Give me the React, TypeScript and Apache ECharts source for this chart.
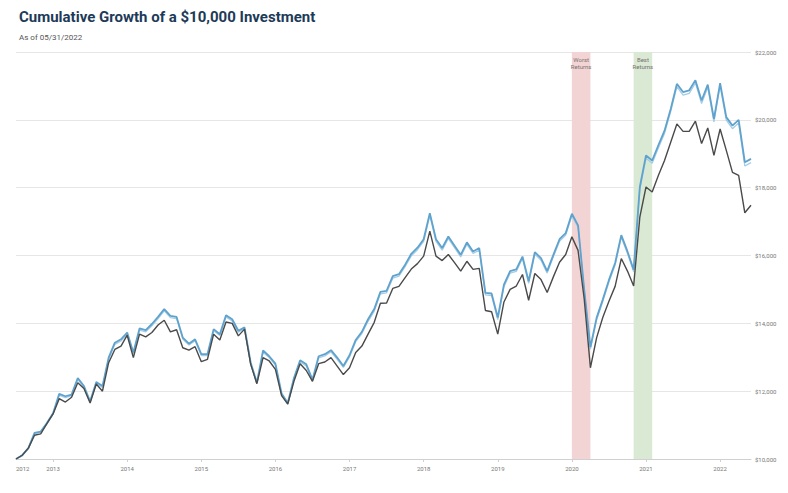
import React, { useEffect, useRef } from "react";
import * as echarts from "echarts";

// Month-end dates from 2012-06 through 2022-05
const startYear = 2012;
const startMonth = 6;
const monthCount = 120;
const months: string[] = [];
for (let i = 0; i < monthCount; i++) {
  const t = startMonth - 1 + i;
  const y = startYear + Math.floor(t / 12);
  const m = (t % 12) + 1;
  months.push(`${y}-${m < 10 ? "0" + m : m}`);
}

const fundBlue = [
  10000, 10110, 10320, 10770, 10810, 11060, 11350, 11920, 11850, 11900,
  12390, 12150, 11700, 12270, 12150, 12990, 13430, 13530, 13730, 13140,
  13850, 13800, 13980, 14190, 14420, 14220, 14190, 13580, 13400, 13530,
  13090, 13090, 13830, 13680, 14240, 14120, 13780, 13880, 12840, 12250,
  13200, 13030, 12810, 11930, 11650, 12390, 12910, 12790, 12340, 13030,
  13090, 13210, 12990, 12740, 13060, 13510, 13750, 14120, 14420, 14930,
  14960, 15390, 15450, 15730, 16050, 16230, 16480, 17250, 16480, 16220,
  16560, 16290, 16020, 16390, 16120, 16220, 14900, 14880, 14170, 15140,
  15540, 15590, 15970, 15240, 16100, 15920, 15540, 16020, 16480, 16660,
  17230, 16890, 14990, 13300, 14160, 14700, 15280, 15780, 16600, 16120,
  15580, 18020, 18950, 18800, 19250, 19680, 20320, 21060, 20820, 20870,
  21170, 20570, 21040, 20030, 21080, 20080, 19830, 20000, 18750, 18850,
];

const fundLightBlue = [
  10000, 10090, 10300, 10740, 10790, 11030, 11320, 11880, 11810, 11870,
  12350, 12110, 11680, 12230, 12110, 12940, 13380, 13480, 13690, 13100,
  13800, 13750, 13930, 14140, 14370, 14170, 14140, 13540, 13360, 13490,
  13050, 13050, 13780, 13640, 14190, 14070, 13740, 13840, 12800, 12220,
  13150, 12990, 12770, 11900, 11620, 12350, 12860, 12740, 12300, 12980,
  13040, 13160, 12940, 12700, 13010, 13460, 13700, 14060, 14360, 14870,
  14900, 15330, 15390, 15670, 15990, 16170, 16420, 17180, 16420, 16160,
  16500, 16230, 15960, 16330, 16060, 16160, 14840, 14820, 14110, 15080,
  15480, 15530, 15910, 15180, 16040, 15860, 15480, 15960, 16420, 16600,
  17170, 16830, 14930, 13240, 14100, 14640, 15220, 15720, 16540, 16060,
  15520, 17950, 18870, 18720, 19170, 19600, 20240, 20980, 20730, 20780,
  21090, 20480, 20960, 19940, 21000, 19990, 19740, 19910, 18640, 18740,
];

const benchmarkDark = [
  10000, 10110, 10320, 10700, 10740, 11040, 11330, 11780, 11680, 11820,
  12250, 12080, 11650, 12210, 12000, 12840, 13230, 13330, 13650, 12990,
  13680, 13600, 13730, 13950, 14090, 13750, 13810, 13280, 13210, 13310,
  12870, 12940, 13680, 13510, 14040, 14000, 13630, 13830, 12790, 12220,
  12990, 12890, 12640, 11870, 11620, 12290, 12810, 12610, 12290, 12810,
  12860, 12990, 12740, 12490, 12690, 13140, 13330, 13680, 14030, 14590,
  14600, 15030, 15090, 15350, 15600, 15760, 15980, 16720, 15980, 15850,
  16030, 15790, 15540, 15830, 15590, 15620, 14380, 14340, 13680, 14630,
  15000, 15100, 15440, 14680, 15470, 15290, 14910, 15370, 15800, 16030,
  16550, 16150, 14710, 12690, 13570, 14170, 14650, 15090, 15910, 15540,
  15100, 17130, 18020, 17870, 18360, 18800, 19340, 19880, 19660, 19660,
  19960, 19300, 19760, 18950, 19730, 19100, 18450, 18360, 17260, 17480,
];

const worstBand = ["2019-12", "2020-03"];
const bestBand = ["2020-10", "2021-01"];
const worstLabel = "Worst\nReturns";
const bestLabel = "Best\nReturns";
const firstYearLabel = "2012";

const titleText = "Cumulative Growth of a $10,000 Investment";
const subText = "As of 05/31/2022";

export default function App() {
  const ref = useRef<HTMLDivElement>(null);
  useEffect(() => {
    if (!ref.current) return;
    const chart = echarts.init(ref.current, undefined, { renderer: "svg" });
    const isYearTick = (_i: number, v: string) => v.endsWith("-12");
    chart.setOption({
      animation: false,
      backgroundColor: "#ffffff",
      textStyle: { fontFamily: "Roboto" },
      title: {
        text: titleText,
        subtext: subText,
        left: 14,
        top: 4,
        itemGap: 9,
        textStyle: { fontFamily: "Roboto", fontSize: 15, fontWeight: "bold", color: "#1d3a57" },
        subtextStyle: { fontFamily: "Roboto", fontSize: 8, color: "#555" },
      },
      grid: { left: 16, right: 37, top: 52, bottom: 34 },
      xAxis: {
        type: "category",
        data: months,
        boundaryGap: false,
        axisLine: { lineStyle: { color: "#d0d0d0" } },
        axisTick: { interval: isYearTick, length: 3, lineStyle: { color: "#d0d0d0" } },
        axisLabel: {
          interval: (i: number, v: string) => i === 0 || v.endsWith("-12"),
          formatter: (v: string, i: number) => (i === 0 ? firstYearLabel : String(Number(v.slice(0, 4)) + 1)),
          fontSize: 6,
          color: "#777",
          margin: 6,
          alignMinLabel: "left",
          showMinLabel: true,
        },
        splitLine: { show: false },
      },
      yAxis: {
        type: "value",
        position: "right",
        min: 10000,
        max: 22000,
        interval: 2000,
        axisLine: { show: false },
        axisTick: { show: false },
        axisLabel: {
          formatter: (v: number) => "$" + v.toLocaleString("en-US"),
          fontSize: 6,
          color: "#777",
          margin: 4,
        },
        splitLine: { lineStyle: { color: "#e6e6e6", width: 1 } },
      },
      series: [
        {
          name: "Light",
          type: "line",
          data: fundLightBlue,
          symbol: "none",
          lineStyle: { color: "#a3cde6", width: 1.3 },
          z: 2,
          markArea: {
            silent: true,
            label: {
              position: "insideTop",
              distance: 4,
              fontSize: 6,
              lineHeight: 7,
              color: "#7a7070",
            },
            data: [
              [
                { name: worstLabel, xAxis: worstBand[0], itemStyle: { color: "#f3d4d4" } },
                { xAxis: worstBand[1] },
              ],
              [
                { name: bestLabel, xAxis: bestBand[0], itemStyle: { color: "#d9e9d4" } },
                { xAxis: bestBand[1] },
              ],
            ],
          },
        },
        {
          name: "Fund",
          type: "line",
          data: fundBlue,
          symbol: "none",
          lineStyle: { color: "#5fa2cd", width: 1.8 },
          z: 3,
        },
        {
          name: "Benchmark",
          type: "line",
          data: benchmarkDark,
          symbol: "none",
          lineStyle: { color: "#4a4a4a", width: 1.4 },
          z: 4,
        },
      ],
    });
    return () => chart.dispose();
  }, []);
  return (
    <div
      ref={ref}
      style={{ position: "fixed", left: 0, top: 0, width: 788, height: 493, background: "#fff" }}
    />
  );
}
